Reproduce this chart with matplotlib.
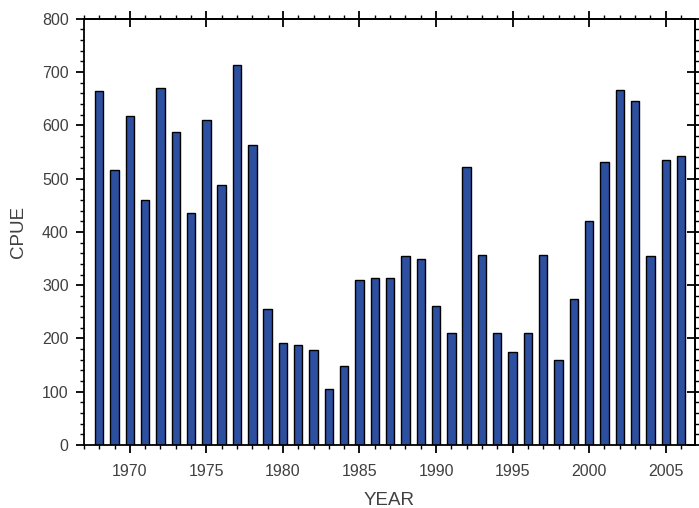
import numpy as np
import matplotlib
matplotlib.use("Agg")
import matplotlib.pyplot as plt
from matplotlib.ticker import MultipleLocator

# CPUE by year
years = list(range(1968, 2007))
cpue = [665, 516, 618, 460, 670, 588, 435, 610, 488, 713,
        563, 256, 192, 188, 178, 106, 149, 310, 313, 313,
        354, 349, 260, 210, 521, 356, 210, 174, 210, 356,
        160, 274, 421, 531, 667, 646, 354, 535, 543]

plt.rcParams['font.family'] = ['Liberation Sans', 'DejaVu Sans']

fig = plt.figure(figsize=(6.99, 5.08), dpi=100)
ax = fig.add_axes([0.120, 0.124, 0.874, 0.839])

ax.bar(years, cpue, width=0.55, color='#2d4f9f', edgecolor='black', linewidth=1.0)

ax.set_xlim(1967, 2006.9)
ax.set_ylim(0, 800)
ax.xaxis.set_major_locator(MultipleLocator(5))
ax.xaxis.set_minor_locator(MultipleLocator(1))
ax.yaxis.set_major_locator(MultipleLocator(100))
ax.yaxis.set_minor_locator(MultipleLocator(20))

for s in ax.spines.values():
    s.set_linewidth(1.3)

ax.tick_params(which='both', direction='out', colors='black',
               labelcolor='#404040', labelsize=11.5)
ax.tick_params(which='major', length=6, width=1.3)
ax.tick_params(which='minor', length=3, width=1.0)
ax.tick_params(axis='x', which='major', pad=8)
ax.tick_params(axis='y', which='major', pad=5)

# top and right: major ticks cross the frame, minor ticks point out
top = ax.secondary_xaxis('top')
right = ax.secondary_yaxis('right')
top.xaxis.set_major_locator(MultipleLocator(5))
top.xaxis.set_minor_locator(MultipleLocator(1))
right.yaxis.set_major_locator(MultipleLocator(100))
right.yaxis.set_minor_locator(MultipleLocator(20))
for sec in (top, right):
    sec.tick_params(which='major', direction='inout', length=12, width=1.3,
                    labeltop=False, labelright=False)
    sec.tick_params(which='minor', direction='out', length=3, width=1.0)
    for s in sec.spines.values():
        s.set_linewidth(1.3)

ax.set_xlabel('YEAR', fontsize=13.5, color='#404040', labelpad=9)
ax.set_ylabel('CPUE', fontsize=13.5, color='#404040', labelpad=11)

fig.savefig('out.png', dpi=100)
